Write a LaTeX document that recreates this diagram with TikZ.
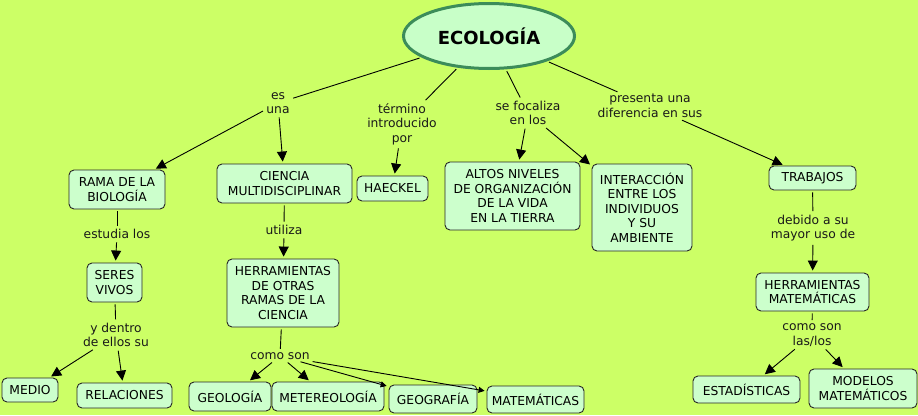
\documentclass[tikz,border=0pt]{standalone}
\usepackage{fontspec}
\setmainfont{DejaVu Sans}
\usetikzlibrary{shapes.geometric,arrows.meta}
\definecolor{bg}{HTML}{CCFF66}
\definecolor{boxfill}{HTML}{CCFFCC}
\definecolor{ellborder}{HTML}{3C8C5A}
\definecolor{ellfill}{HTML}{C8FFC8}
\tikzset{
  concept/.style={draw=black!85, fill=boxfill, rounded corners=5pt, line width=0.9pt,
    align=center, inner sep=0pt, font=\fontsize{12.3}{14.5}\selectfont},
  linklabel/.style={align=center, inner sep=1.5pt, font=\fontsize{12.3}{14.5}\selectfont, text=black!90},
  conn/.style={line width=0.9pt, shorten <=2pt, shorten >=2pt},
  arr/.style={conn, -{Triangle[length=10pt,width=10pt]}},
  smallarr/.style={conn, -{Triangle[length=6pt,width=6pt]}},
}
\begin{document}
\begin{tikzpicture}[x=1pt,y=-1pt]
\fill[bg] (0,0) rectangle (918,415);
\useasboundingbox (0,0) rectangle (918,415);

% main concept
\node[ellipse, draw=ellborder, fill=ellfill, line width=3pt, minimum width=171pt, minimum height=65pt,
  inner sep=0pt, font=\fontsize{18}{20}\selectfont\bfseries] (ecol) at (489,36) {ECOLOGÍA};

% concepts
\node[concept, minimum width=96pt, minimum height=39pt] (rama) at (117,189.5) {RAMA DE LA\\BIOLOGÍA};
\node[concept, minimum width=135pt, minimum height=39pt] (ciencia) at (284.5,183.5) {CIENCIA\\MULTIDISCIPLINAR};
\node[concept, minimum width=71pt, minimum height=25pt] (haeckel) at (392.5,188.5) {HAECKEL};
\node[concept, minimum width=135pt, minimum height=68pt] (altos) at (512.5,196) {ALTOS NIVELES\\DE ORGANIZACIÓN\\DE LA VIDA\\EN LA TIERRA};
\node[concept, minimum width=100pt, minimum height=87pt] (inter) at (642,207.5) {INTERACCIÓN\\ENTRE LOS\\INDIVIDUOS\\Y SU\\AMBIENTE};
\node[concept, minimum width=87pt, minimum height=24pt] (trabajos) at (812.5,178) {TRABAJOS};
\node[concept, minimum width=55pt, minimum height=39pt] (seres) at (114.5,282.5) {SERES\\VIVOS};
\node[concept, minimum width=112pt, minimum height=68pt] (herr) at (283,293) {HERRAMIENTAS\\DE OTRAS\\RAMAS DE LA\\CIENCIA};
\node[concept, minimum width=56pt, minimum height=24pt] (medio) at (30,390) {MEDIO};
\node[concept, minimum width=95pt, minimum height=25pt] (relac) at (124.5,395.5) {RELACIONES};
\node[concept, minimum width=82pt, minimum height=29pt] (geol) at (230,396.5) {GEOLOGÍA};
\node[concept, minimum width=112pt, minimum height=29pt] (meteo) at (328,396.5) {METEREOLOGÍA};
\node[concept, minimum width=88pt, minimum height=28pt] (geog) at (433,399) {GEOGRAFÍA};
\node[concept, minimum width=97pt, minimum height=27pt] (matem) at (535.5,399.5) {MATEMÁTICAS};
\node[concept, minimum width=113pt, minimum height=38pt] (hmat) at (812.5,292) {HERRAMIENTAS\\MATEMÁTICAS};
\node[concept, minimum width=107pt, minimum height=27pt] (estad) at (746.5,389.5) {ESTADÍSTICAS};
\node[concept, minimum width=108pt, minimum height=39pt] (model) at (863,388.5) {MODELOS\\MATEMÁTICOS};

% link labels
\node[linklabel] (esuna) at (278,103) {es\\una};
\node[linklabel] (termino) at (402,124) {término\\introducido\\por};
\node[linklabel] (sefoc) at (528,113) {se focaliza\\en los};
\node[linklabel] (presenta) at (650,106) {presenta una\\diferencia en sus};
\node[linklabel] (debido) at (813,228) {debido a su\\mayor uso de};
\node[linklabel] (comolas) at (812,335) {como son\\las/los};
\node[linklabel] (estudia) at (117,234) {estudia los};
\node[linklabel] (utiliza) at (284,230) {utiliza};
\node[linklabel] (ydentro) at (116,335) {y dentro\\de ellos su};
\node[linklabel] (comoson) at (280,356) {como son};

% connectors
\draw[conn] (ecol) -- (esuna);
\draw[arr] (esuna) -- (rama);
\draw[arr] (esuna) -- (ciencia);
\draw[conn] (ecol) -- (termino);
\draw[arr] (termino) -- (haeckel);
\draw[conn] (ecol) -- (sefoc);
\draw[arr] (sefoc) -- (altos);
\draw[arr] (sefoc) -- (inter);
\draw[conn] (ecol) -- (presenta);
\draw[arr] (presenta) -- (trabajos);
\draw[conn] (trabajos) -- (debido);
\draw[arr] (debido) -- (hmat);
\draw[conn] (hmat) -- (comolas);
\draw[arr] (comolas) -- (estad);
\draw[arr] (comolas) -- (model);
\draw[conn] (rama) -- (estudia);
\draw[arr] (estudia) -- (seres);
\draw[conn] (ciencia) -- (utiliza);
\draw[arr] (utiliza) -- (herr);
\draw[conn] (seres) -- (ydentro);
\draw[arr] (ydentro) -- (medio);
\draw[arr] (ydentro) -- (relac);
\draw[conn] (herr) -- (comoson);
\draw[arr] (comoson) -- (geol);
\draw[arr] (comoson) -- (meteo);
\draw[smallarr] (comoson) -- (geog);
\draw[smallarr] (comoson) -- (matem);
\end{tikzpicture}
\end{document}
